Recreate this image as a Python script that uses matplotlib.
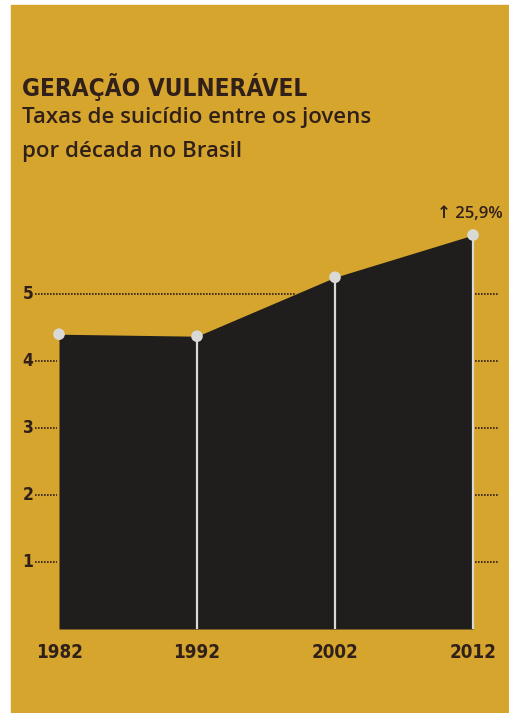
import numpy as np
import matplotlib.pyplot as plt
from matplotlib.patches import Rectangle

# Taxas de suicídio entre jovens, por década
years = [1982, 1992, 2002, 2012]
rates = [4.40, 4.37, 5.25, 5.88]
tick_values = [1, 2, 3, 4, 5]
year_labels = ["1982", "1992", "2002", "2012"]
growth_label = "↑ 25,9%"

BG = "#d5a52e"
AREA = "#201e1c"
INK = "#31201a"
LINE = "#d9d9d6"

COND = dict(family="DejaVu Sans", fontstretch="condensed", fontweight="bold")

W, H = 509, 713
fig = plt.figure(figsize=(W / 100, H / 100), dpi=100, facecolor="white")

# yellow page (white strip on the left and top edge)
fig.patches.append(Rectangle((11 / W, 0), 1 - 11 / W, 1 - 5 / H,
                             transform=fig.transFigure, color=BG, zorder=-5))

# axes cover the page; limits chosen so the chart sits in place
ax = fig.add_axes([11 / W, 0, 1 - 11 / W, 1 - 5 / H])
ax.set_facecolor("none")
px_year = 13.8
px_unit = 67.0
ax.set_xlim(1982 - 48 / px_year, 2012 + 36 / px_year)
ax.set_ylim(-(713 - 629) / px_unit, (629 - 5) / px_unit)
ax.axis("off")

ax.fill_between(years, rates, 0, color=AREA, linewidth=0, zorder=2)
ax.vlines(years[1:], 0, rates[1:], color=LINE, linewidth=1.6, zorder=3)
ax.scatter(years, rates, s=70, color=LINE, edgecolors="none", zorder=4)

# dotted guides: left ticks, right ticks, and the long one at 5
dots = dict(color=INK, linewidth=1.2, linestyle=(0, (1, 0.8)), zorder=1)
x_left0 = 1982 - 24 / px_year
x_left1 = 1982 - 2 / px_year
x_right0 = 2012 + 2 / px_year
x_right1 = 2012 + 25 / px_year
for v in tick_values:
    if v == 5:
        x_end = np.interp(v, rates[1:3], years[1:3])
    else:
        x_end = x_left1
    ax.plot([x_left0, x_end], [v, v], **dots)
    ax.plot([x_right0, x_right1], [v, v], **dots)
    ax.text(1982 - 31 / px_year, v, str(v), ha="center", va="center",
            fontsize=12.5, color=INK, **COND)

for x, lab in zip(years, year_labels):
    ax.text(x, -23 / px_unit, lab, ha="center", va="center",
            fontsize=13.5, color=INK, **COND)

ax.text(years[-1] - 3 / px_year, rates[-1] + 21 / px_unit, growth_label,
        ha="center", va="center", fontsize=12, fontweight="semibold",
        color=INK, family=["Open Sans", "DejaVu Sans"])

# title block
fig.text(22 / W, 1 - 96 / H, "GERAÇÃO VULNERÁVEL", fontsize=17.5,
         color=INK, va="baseline", **COND)
fig.text(22 / W, 1 - 123 / H, "Taxas de suicídio entre os jovens",
         fontsize=16, fontweight="semibold", color=INK, family="Open Sans",
         va="baseline")
fig.text(22 / W, 1 - 157 / H, "por década no Brasil",
         fontsize=16, fontweight="semibold", color=INK, family="Open Sans",
         va="baseline")

fig.savefig("out.png", dpi=100, facecolor="white")
